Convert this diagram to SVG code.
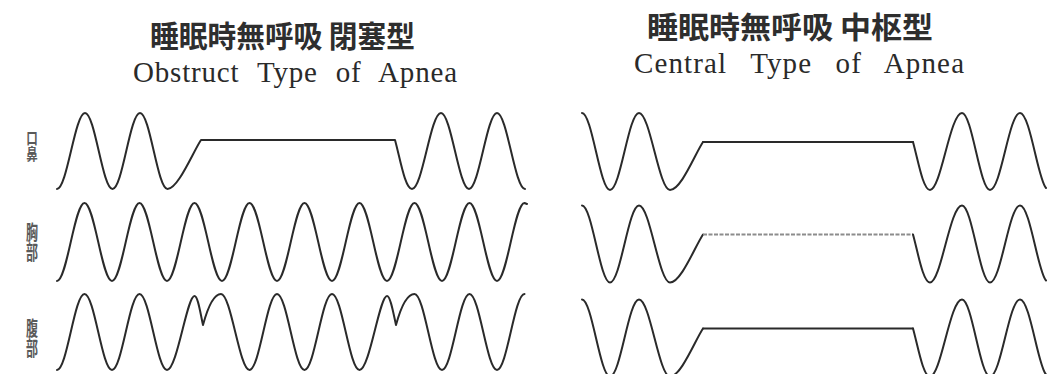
<svg xmlns="http://www.w3.org/2000/svg" xmlns:xlink="http://www.w3.org/1999/xlink" width="1062" height="374" viewBox="0 0 1062 374">
<style>
.wave{fill:none;stroke:#2a2a2a;stroke-width:2;stroke-linejoin:round;stroke-linecap:round}
.flat2{fill:none;stroke:#8c8c8c;stroke-width:2.2;stroke-dasharray:4 1.5}
.jp{font-family:"Noto Sans CJK JP","Noto Sans CJK SC",sans-serif;font-weight:bold;fill:#2e2e2e}
.en{font-family:"Liberation Serif","DejaVu Serif",serif;fill:#2a2a2a}
.lab{font-family:"Noto Sans CJK JP","Noto Sans CJK SC",sans-serif;font-weight:bold;fill:#5a5a5a;writing-mode:vertical-rl;text-orientation:upright;glyph-orientation-vertical:0}
</style>
<defs>
<path id="cL" d="M582,113 C592,113 600,190 610,190 C620.5,190 628.5,113 639,113 C650,113 659,190 670,190 C681,190 695,154 703,142"/>
<path id="cP" d="M703,142 L913,142"/>
<path id="cR" d="M913,142 C918,160 923,190 930,190 C941,190 950,113 962,113 C972,113 980,190 990,190 C1001,190 1009,113 1020,113 C1030,113 1038,180 1046,188"/>
</defs>
<rect width="1062" height="374" fill="#ffffff"/>
<g id="title-obstructive">
<text class="jp" x="150" y="47" font-size="30" textLength="265" lengthAdjust="spacingAndGlyphs">睡眠時無呼吸 閉塞型</text>
<text class="en" x="133" y="82" font-size="29" word-spacing="10" textLength="324" lengthAdjust="spacing">Obstruct Type of Apnea</text>
</g>
<g id="title-central">
<text class="jp" x="647" y="38" font-size="30" textLength="286" lengthAdjust="spacingAndGlyphs">睡眠時無呼吸 中枢型</text>
<text class="en" x="634" y="73" font-size="29" word-spacing="15" textLength="330" lengthAdjust="spacing">Central Type of Apnea</text>
</g>
<g id="label-oronasal">
<text class="lab" transform="translate(32 0) scale(0.72 1)" x="0" y="130" font-size="16">口鼻</text>
</g>
<g id="label-chest">
<text class="lab" transform="translate(32 0) scale(0.6 1)" x="0" y="222" font-size="20">胸部</text>
</g>
<g id="label-abdomen">
<text class="lab" transform="translate(32 0) scale(0.6 1)" x="0" y="318" font-size="20">腹部</text>
</g>
<g id="connectors">
<g id="obstructive-oronasal">
<path class="wave" d="M57,189 C67,189 75,113 85,113 C95,113 102.5,189 112.5,189 C122.5,189 130,113 140,113 C150,113 157.5,189 167.5,189 C178,189 193,152 201,140 L395,140 C400,158 405,189 412,189 C422.5,189 430.5,113 441,113 C451,113 459,189 469,189 C479,189 487,113 497,113 C507,113 515,189 525,189"/>
</g>
<g id="obstructive-chest">
<path class="wave" d="M57,281 C67,281 74.5,203 84.5,203 C94.5,203 102,281 112,281 C122,281 129.5,203 139.5,203 C149.5,203 157,281 167,281 C177,281 184.5,203 194.5,203 C204.5,203 212,281 222,281 C232,281 239.5,203 249.5,203 C259.5,203 267,281 277,281 C287,281 294.5,203 304.5,203 C314.5,203 322,281 332,281 C342,281 349.5,203 359.5,203 C369.5,203 377,281 387,281 C397,281 404.5,203 414.5,203 C424.5,203 432,281 442,281 C452,281 459.5,203 469.5,203 C479.5,203 487,281 497,281 C507,281 514.5,203 524.5,203 L527,204"/>
</g>
<g id="obstructive-abdomen">
<path class="wave" d="M57,370 C67,370 74.5,294 84.5,294 C94.5,294 102,370 112,370 C122,370 129.5,294 139.5,294 C149.5,294 157,370 167,370 C177,370 187,296 194.5,296 C198,296 200.5,314 203,325 C206,314 212,294 221,294 C231,294 239.5,370 249.5,370 C259.5,370 267,294 277,294 C287,294 294.5,370 304.5,370 C314.5,370 322,294 332,294 C342,294 349.5,370 359.5,370 C369.5,370 379.5,296 387,296 C390.5,296 393.5,314 396,325 C399,314 405,294 414.5,294 C424.5,294 432,370 442,370 C452,370 459.5,294 469.5,294 C479.5,294 487,370 497,370 C507,370 514.5,294 524.5,294"/>
</g>
<g id="central-oronasal">
<use xlink:href="#cL" class="wave"/>
<use xlink:href="#cP" class="wave"/>
<use xlink:href="#cR" class="wave"/>
</g>
<g id="central-chest" transform="translate(0 92.5)">
<use xlink:href="#cL" class="wave"/>
<use xlink:href="#cP" class="flat2"/>
<use xlink:href="#cR" class="wave"/>
</g>
<g id="central-abdomen" transform="translate(0 186.5)">
<use xlink:href="#cL" class="wave"/>
<use xlink:href="#cP" class="wave"/>
<use xlink:href="#cR" class="wave"/>
</g>
</g>
</svg>
